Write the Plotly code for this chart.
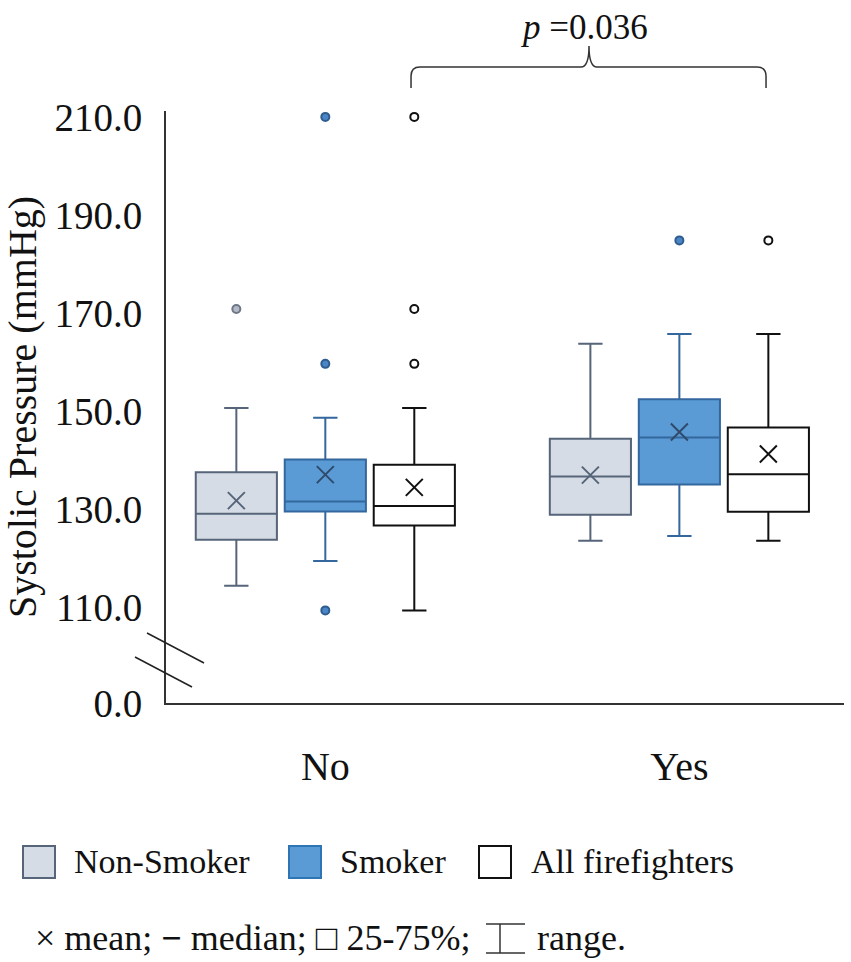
import plotly.graph_objects as go

# ---- data ----
groups = ["No", "Yes"]

ns_q1 = [123.7, 128.8]
ns_median = [129.0, 136.6]
ns_q3 = [137.5, 144.3]
ns_low = [114.3, 123.5]
ns_high = [150.6, 163.7]
ns_mean = [131.7, 136.9]
ns_out_x = ["No"]
ns_out_y = [170.8]

sm_q1 = [129.5, 135.0]
sm_median = [131.5, 144.6]
sm_q3 = [140.1, 152.4]
sm_low = [119.4, 124.5]
sm_high = [148.6, 165.7]
sm_mean = [137.0, 145.7]
sm_out_x = ["No", "No", "No", "Yes"]
sm_out_y = [210.0, 159.6, 109.3, 184.8]

all_q1 = [126.6, 129.4]
all_median = [130.6, 137.1]
all_q3 = [139.0, 146.6]
all_low = [109.3, 123.5]
all_high = [150.6, 165.7]
all_mean = [134.4, 141.2]
all_out_x = ["No", "No", "No", "Yes"]
all_out_y = [210.0, 170.8, 159.6, 184.8]

tick_vals = [110, 130, 150, 170, 190, 210]
zero_pos = 90.4          # where "0.0" sits below the axis break
p_label = "<i>p</i> =0.036"

# ---- page geometry (pixels) ----
W, H = 851, 962
L, R, T, B = 166, 7, 111, 259
PW = W - L - R
PH = H - T - B
FONT = "Liberation Serif, Times New Roman, serif"


def px(x):
    return (x - L) / PW


def py(y):
    return (H - B - y) / PH


series = [
    dict(name="Non-Smoker", key="ns", q1=ns_q1, med=ns_median, q3=ns_q3,
         lo=ns_low, hi=ns_high, mean=ns_mean, ox=ns_out_x, oy=ns_out_y,
         fill="#D6DCE5", line="#56657A", mcol="#56657A",
         ofill="#B4BAC8", oline="#6E7788"),
    dict(name="Smoker", key="sm", q1=sm_q1, med=sm_median, q3=sm_q3,
         lo=sm_low, hi=sm_high, mean=sm_mean, ox=sm_out_x, oy=sm_out_y,
         fill="#5B9BD5", line="#33679E", mcol="#2F4A6A",
         ofill="#4A86C5", oline="#2F5D8F"),
    dict(name="All firefighters", key="all", q1=all_q1, med=all_median, q3=all_q3,
         lo=all_low, hi=all_high, mean=all_mean, ox=all_out_x, oy=all_out_y,
         fill="#FFFFFF", line="#111111", mcol="#111111",
         ofill="#FFFFFF", oline="#111111"),
]

fig = go.Figure()

for s in series:
    fig.add_trace(go.Box(
        x=groups, q1=s["q1"], median=s["med"], q3=s["q3"],
        lowerfence=s["lo"], upperfence=s["hi"],
        name=s["name"], offsetgroup=s["key"], alignmentgroup="a",
        fillcolor=s["fill"], line=dict(color=s["line"], width=2),
        whiskerwidth=0.3, boxpoints=False, showlegend=False, hoverinfo="skip",
    ))

for s in series:
    fig.add_trace(go.Scatter(
        x=groups, y=s["mean"], mode="markers", offsetgroup=s["key"],
        alignmentgroup="a", orientation="v", showlegend=False, hoverinfo="skip",
        marker=dict(symbol="x-thin", size=17, line=dict(color=s["mcol"], width=2)),
    ))
    fig.add_trace(go.Scatter(
        x=s["ox"], y=s["oy"], mode="markers", offsetgroup=s["key"],
        alignmentgroup="a", orientation="v", showlegend=False, hoverinfo="skip",
        marker=dict(symbol="circle", size=8, color=s["ofill"],
                    line=dict(color=s["oline"], width=2)),
    ))

shapes = []
# axis break slashes
for (x0, y0, x1, y1) in [(147, 633, 204, 663), (135, 657, 192, 687)]:
    shapes.append(dict(type="line", xref="paper", yref="paper",
                       x0=px(x0), y0=py(y0), x1=px(x1), y1=py(y1),
                       line=dict(color="#222222", width=1.5)))

# curly bracket over the Yes group
pts = [("M", 411, 88), ("L", 411, 76), ("Q", 411, 67, 420, 67), ("L", 581, 67),
       ("Q", 589, 67, 589, 46), ("Q", 589, 67, 597, 67), ("L", 757, 67),
       ("Q", 766, 67, 766, 76), ("L", 766, 88)]
path = ""
for p in pts:
    if p[0] == "Q":
        path += "Q{:.4f},{:.4f} {:.4f},{:.4f} ".format(px(p[1]), py(p[2]), px(p[3]), py(p[4]))
    else:
        path += "{}{:.4f},{:.4f} ".format(p[0], px(p[1]), py(p[2]))
shapes.append(dict(type="path", xref="paper", yref="paper", path=path.strip(),
                   line=dict(color="#333333", width=1.5)))

# legend squares
legend_x = [23, 289, 479]
for s, lx in zip(series, legend_x):
    shapes.append(dict(type="rect", xref="paper", yref="paper",
                       x0=px(lx), x1=px(lx + 32), y0=py(846), y1=py(878),
                       fillcolor=s["fill"],
                       line=dict(color="#2E75B6" if s["key"] == "sm" else s["line"], width=2)))

# range symbol in the note
for (x0, y0, x1, y1) in [(486, 924, 525, 924), (486, 953, 525, 953), (500, 924, 500, 953)]:
    shapes.append(dict(type="line", xref="paper", yref="paper",
                       x0=px(x0), y0=py(y0), x1=px(x1), y1=py(y1),
                       line=dict(color="#333333", width=1.5)))

annotations = [
    dict(text=p_label, x=px(584), y=py(27), xref="paper", yref="paper",
         showarrow=False, xanchor="center", yanchor="middle",
         font=dict(family=FONT, size=35, color="#111111")),
    dict(text="× mean; <b>−</b> median; □ 25-75%;", x=px(33), y=py(938),
         xref="paper", yref="paper", showarrow=False, xanchor="left", yanchor="middle",
         font=dict(family=FONT, size=36, color="#111111")),
    dict(text="range.", x=px(535), y=py(938), xref="paper", yref="paper",
         showarrow=False, xanchor="left", yanchor="middle",
         font=dict(family=FONT, size=36, color="#111111")),
]
legend_tx = [72, 338, 529]
for s, tx in zip(series, legend_tx):
    annotations.append(dict(text=s["name"], x=px(tx), y=py(861), xref="paper", yref="paper",
                            showarrow=False, xanchor="left", yanchor="middle",
                            font=dict(family=FONT, size=34, color="#111111")))

fig.update_layout(
    width=W, height=H,
    margin=dict(l=L, r=R, t=T, b=B),
    paper_bgcolor="white", plot_bgcolor="white",
    boxmode="group", boxgap=0.246, boxgroupgap=0.088,
    scattermode="group", scattergap=0.246,
    showlegend=False,
    font=dict(family=FONT, color="#111111"),
    shapes=shapes, annotations=annotations,
)

fig.update_xaxes(
    type="category", categoryorder="array", categoryarray=groups,
    range=[-0.45, 1.465], showline=True, linecolor="#333333", linewidth=2,
    showgrid=False, zeroline=False, ticks="", ticklabelstandoff=27,
    tickfont=dict(family=FONT, size=40, color="#111111"), fixedrange=True,
)

fig.update_yaxes(
    range=[zero_pos, 211.2], showline=True, linecolor="#333333", linewidth=2,
    showgrid=False, zeroline=False, ticks="", ticklabelstandoff=14,
    tickvals=[zero_pos] + tick_vals,
    ticktext=["0.0"] + ["{:.1f}".format(v) for v in tick_vals],
    tickfont=dict(family=FONT, size=39, color="#111111"),
    title=dict(text="Systolic Pressure (mmHg)", standoff=12,
               font=dict(family=FONT, size=40, color="#111111")),
    fixedrange=True,
)

fig.write_html("out.html", config={"displayModeBar": False},
               post_script="document.body.style.margin='0';")
